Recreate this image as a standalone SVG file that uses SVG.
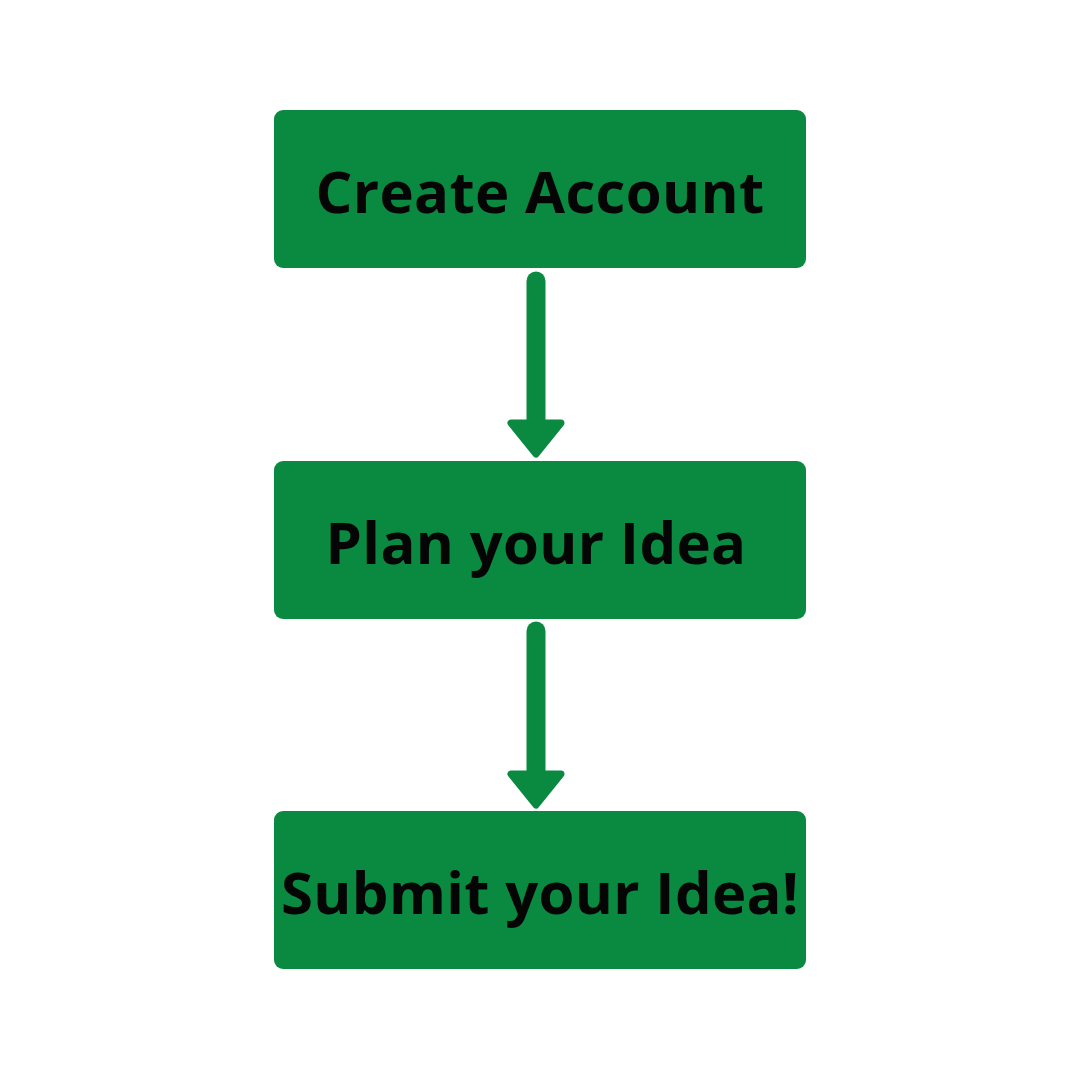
<svg xmlns="http://www.w3.org/2000/svg" width="1080" height="1080" viewBox="0 0 1080 1080">
<defs>
<style>
.box{fill:#0a8a40}
.lbl{font-family:"Open Sans",sans-serif;font-weight:700;font-size:58px;letter-spacing:0.35px;fill:#050505;text-anchor:middle}
.shaft{stroke:#0a8a40;stroke-width:19;stroke-linecap:round;fill:none}
.head{fill:#0a8a40;stroke:#0a8a40;stroke-width:7;stroke-linejoin:round}
</style>
</defs>
<rect width="1080" height="1080" fill="#ffffff"/>
<g id="connectors">
<g id="arrow1">
<line class="shaft" x1="536" y1="281" x2="536" y2="425"/>
<polygon class="head" points="511,423 561,423 536,454"/>
</g>
<g id="arrow2">
<line class="shaft" x1="536" y1="631" x2="536" y2="775"/>
<polygon class="head" points="511,774 561,774 536,805"/>
</g>
</g>
<g id="node1">
<rect class="box" x="274" y="110" width="532" height="158" rx="9"/>
<text class="lbl" x="540" y="213">Create Account</text>
</g>
<g id="node2">
<rect class="box" x="274" y="461" width="532" height="158" rx="9"/>
<text class="lbl" x="536" y="564">Plan your Idea</text>
</g>
<g id="node3">
<rect class="box" x="274" y="811" width="532" height="158" rx="9"/>
<text class="lbl" x="540" y="914">Submit your Idea!</text>
</g>
</svg>
